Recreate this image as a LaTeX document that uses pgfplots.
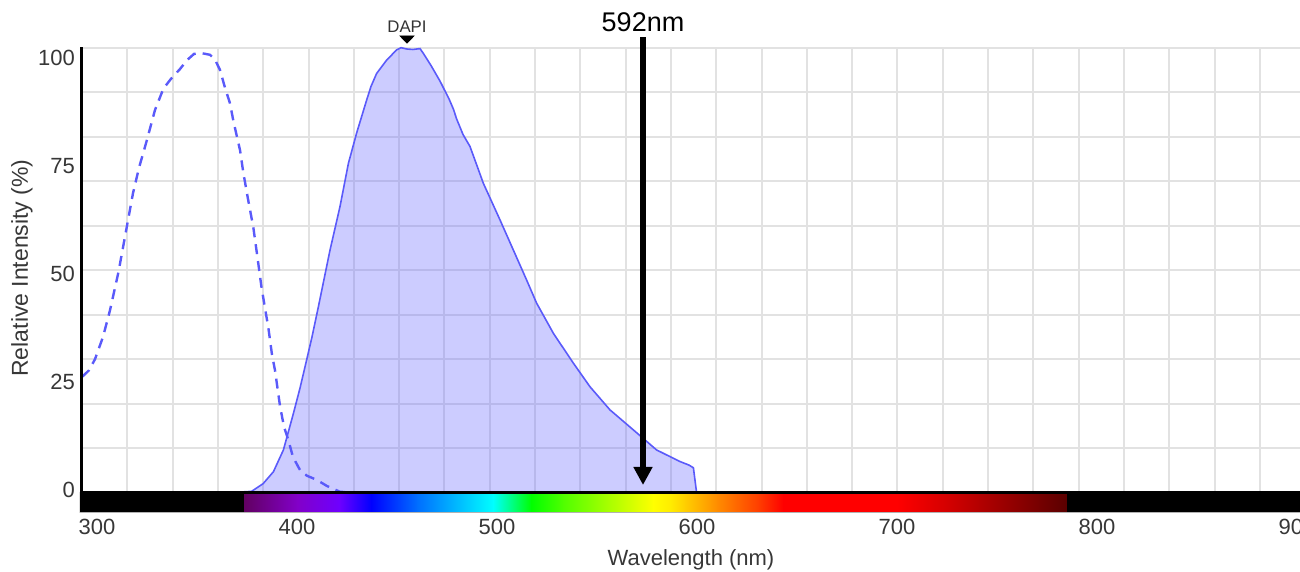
\documentclass[border=0pt]{standalone}
\usepackage{pgfplots}
\pgfplotsset{compat=1.18}
\usepackage{fontspec}
\setmainfont{Liberation Sans}
\usetikzlibrary{arrows.meta}

\definecolor{specline}{RGB}{90,90,250}
\definecolor{specfill}{RGB}{100,100,255}
\definecolor{gridgray}{RGB}{226,226,226}
\definecolor{labelgray}{RGB}{55,55,55}

% one piece of the wavelength colour strip under the axis
\newcommand{\band}[4]{%
  \addplot[draw=none, left color=#3, right color=#4, forget plot]
    coordinates {(#1,-4.34) (#2,-4.34) (#2,0) (#1,0) (#1,-4.34)};}

\begin{document}
\begin{tikzpicture}
\begin{axis}[
  name=ax, at={(0,0)}, anchor=south west,
  scale only axis, width=609pt, height=232.15pt,
  xmin=292.5, xmax=901.5, ymin=-4.34, ymax=100,
  clip=false,
  axis line style={draw=none},
  xtick={300,400,500,600,700,800,900},
  ytick={0.6,24.9,49.1,73.4,97.7},
  yticklabels={0,25,50,75,100},
  minor xtick={315.15,337.8,360.45,383.1,405.75,428.4,451.05,473.7,496.35,
    519,541.65,564.3,586.95,609.6,632.25,654.9,677.55,700.2,722.85,745.5,
    768.15,790.8,813.45,836.1,858.75,881.4},
  minor ytick={10,20,...,100},
  major tick length=0pt, minor tick length=0pt,
  grid=minor, minor grid style={gridgray, line width=1pt},
  /pgf/number format/assume math mode=true,
  tick label style={font=\fontsize{11}{13}\selectfont, text=labelgray},
  xlabel={Wavelength (nm)},
  xlabel style={font=\fontsize{11}{13}\selectfont, text=labelgray, yshift=-0.5pt},
  ylabel={Relative Intensity (\%)},
  ylabel style={font=\fontsize{11.5}{13}\selectfont, text=labelgray,
    at={(axis description cs:-0.0493,0.5255)}, anchor=center},
]

% emission (filled)
\addplot[specline, line width=0.8pt, fill=specfill, fill opacity=0.33] coordinates {
  (361.5,0) (370,0.1) (377.3,0.3) (383,2) (388.2,4.7) (393.2,9.6) (398.2,17.8)
  (401.5,23.5) (404.8,29.8) (407.5,35) (410.7,41.8) (416.5,54.5) (421.5,64.3)
  (425.7,74) (429.8,80.8) (434.8,88.2) (437,91.3) (439.8,94.2) (444.8,97.2)
  (449.8,99.5) (452,100) (455,99.7) (458,99.6) (461.5,99.8) (463.2,98.7)
  (467,96) (471.5,92.5) (476,88.5) (478.2,86.2) (479.8,84) (483,80.5)
  (486.5,77.8) (493.2,69.5) (501.5,61.3) (508.2,54.5) (514.8,47.8)
  (519.8,42.6) (528.2,35.8) (538.2,29.1) (546.5,23.8) (556.5,18.6)
  (568.2,14.1) (579.8,9.6) (591.5,7.0) (596,6.2) (598.2,5.6) (599.8,0)
} \closedcycle;

% excitation (dashed)
\addplot[specline, line width=1.2pt, dash pattern=on 5pt off 3.5pt] coordinates {
  (292.5,26) (296,27.5) (299,30) (303,35) (306.5,41) (310.7,49.5) (314.8,59.5)
  (318,67.3) (321,73) (324.8,79) (329,86) (333.2,90.8) (337,93) (341.5,95.2)
  (345,97.2) (348.5,98.6) (352,98.8) (356.5,98.4) (359,97.3) (361.5,95)
  (364,91) (366.5,87.5) (368.2,83.5) (371.5,77) (373.2,71.8) (375.5,66)
  (378.2,59.5) (380.5,52) (382.3,46) (385.7,37) (387.5,31) (389,27.5)
  (391.5,19.5) (393.5,14.8) (395.7,11.8) (398,8) (401.5,5.1) (405,3.8)
  (409.8,2.9) (415,1.5) (421.5,0.2) (430,0)
};

% colour strip
\band{291.5}{373.8}{black}{black}
\band{373.5}{400.3}{{rgb,255:red,97;green,0;blue,97}}{{rgb,255:red,130;green,0;blue,200}}
\band{400}{421.3}{{rgb,255:red,130;green,0;blue,200}}{{rgb,255:red,110;green,0;blue,255}}
\band{421}{437.3}{{rgb,255:red,110;green,0;blue,255}}{{rgb,255:red,0;green,0;blue,255}}
\band{437}{460.3}{{rgb,255:red,0;green,0;blue,255}}{{rgb,255:red,0;green,110;blue,255}}
\band{460}{498.3}{{rgb,255:red,0;green,110;blue,255}}{{rgb,255:red,0;green,255;blue,255}}
\band{498}{517.3}{{rgb,255:red,0;green,255;blue,255}}{{rgb,255:red,0;green,255;blue,0}}
\band{517}{533.3}{{rgb,255:red,0;green,255;blue,0}}{{rgb,255:red,80;green,255;blue,0}}
\band{533}{578.3}{{rgb,255:red,80;green,255;blue,0}}{{rgb,255:red,255;green,255;blue,0}}
\band{578}{587.3}{{rgb,255:red,255;green,255;blue,0}}{{rgb,255:red,255;green,235;blue,0}}
\band{587}{610.3}{{rgb,255:red,255;green,235;blue,0}}{{rgb,255:red,255;green,140;blue,0}}
\band{610}{631.3}{{rgb,255:red,255;green,140;blue,0}}{{rgb,255:red,255;green,60;blue,0}}
\band{631}{643.3}{{rgb,255:red,255;green,60;blue,0}}{{rgb,255:red,255;green,0;blue,0}}
\band{643}{700.3}{{rgb,255:red,255;green,0;blue,0}}{{rgb,255:red,255;green,0;blue,0}}
\band{700}{726.3}{{rgb,255:red,255;green,0;blue,0}}{{rgb,255:red,210;green,0;blue,0}}
\band{726}{785}{{rgb,255:red,210;green,0;blue,0}}{{rgb,255:red,90;green,0;blue,0}}
\band{785}{901.5}{black}{black}
\draw[black!30, line width=0.4pt] (axis cs:291.5,-4.34) -- (axis cs:901.5,-4.34);

% axis lines
\draw[black, line width=1.3pt] (axis cs:291.5,0) -- (axis cs:901.5,0);
\draw[black, line width=1.5pt] (axis cs:292.5,-0.3) -- (axis cs:292.5,100.2);

% DAPI peak marker
\addplot[only marks, mark=triangle*, mark size=4pt,
  mark options={yscale=-0.6, fill=black, draw=black}, forget plot]
  coordinates {(455,102.1)};
\node[font=\fontsize{8.4}{10}\selectfont, text=black!80] at (axis cs:455,104.65) {DAPI};

% 592 nm line
\addplot[black, line width=3pt, -{Triangle[width=9pt,length=9pt]}, forget plot]
  coordinates {(573,102.4) (573,1.73)};
\node[font=\fontsize{13.5}{15}\selectfont, text=black] at (axis cs:573,105.8) {592nm};

\end{axis}
\pgfresetboundingbox
\path ([xshift=-41pt,yshift=-30pt]ax.south west) rectangle ([yshift=23.85pt]ax.north east);
\end{tikzpicture}
\end{document}
